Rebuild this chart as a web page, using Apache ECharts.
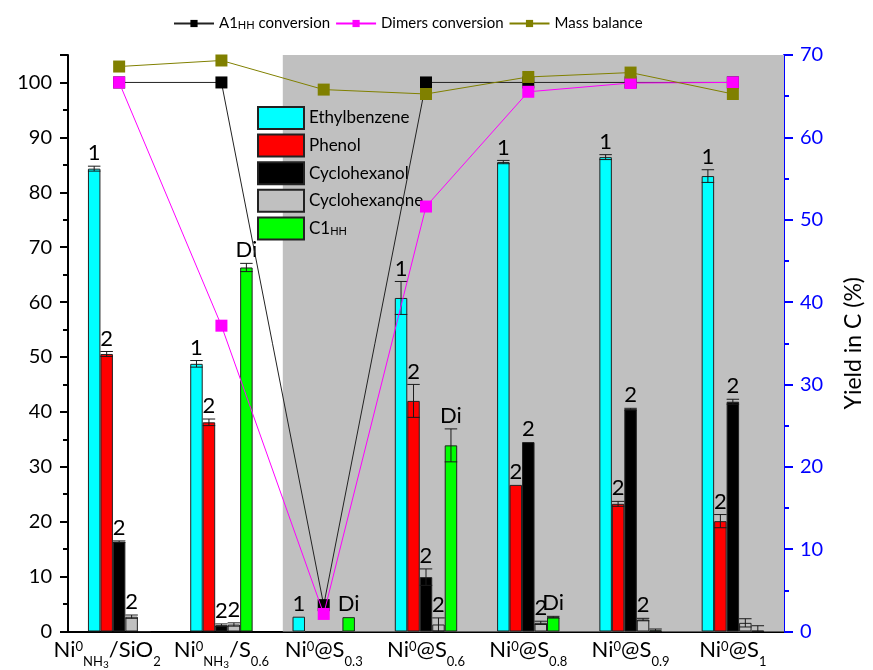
<!DOCTYPE html>
<html>
<head>
<meta charset="utf-8">
<script src="https://cdn.jsdelivr.net/npm/echarts@6/dist/echarts.min.js"></script>
<style>
  html, body { margin: 0; padding: 0; background: #fff; }
  #chart { width: 873px; height: 670px; }
</style>
</head>
<body>
<div id="chart"></div>
<script>
// Catalysts along the x axis
const catalysts = ['Ni0NH3/SiO2', 'Ni0NH3/S0.6', 'Ni0@S0.3', 'Ni0@S0.6', 'Ni0@S0.8', 'Ni0@S0.9', 'Ni0@S1'];
// Tick labels with super/subscripts (rich text)
const tickLabels = [
  '{b|Ni}{sup|0}{sub|NH}{sub2|3}{b|/SiO}{sub|2}',
  '{b|Ni}{sup|0}{sub|NH}{sub2|3}{b|/S}{sub|0.6}',
  '{b|Ni}{sup|0}{b|@S}{sub|0.3}',
  '{b|Ni}{sup|0}{b|@S}{sub|0.6}',
  '{b|Ni}{sup|0}{b|@S}{sub|0.8}',
  '{b|Ni}{sup|0}{b|@S}{sub|0.9}',
  '{b|Ni}{sup|0}{b|@S}{sub|1}'
];

// Product yields, Yield in C (%) - right axis
const ethylbenzene  = [56.2, 32.5, 1.8, 40.5, 57.0, 57.6, 55.3];
const phenol        = [33.7, 25.4, 0, 28.0, 17.8, 15.5, 13.4];
const cyclohexanol  = [10.9, 0.77, 0, 6.6, 23.0, 27.0, 27.9];
const cyclohexanone = [1.8, 0.85, 0, 0.85, 1.05, 1.45, 1.05];
const c1hh          = [0, 44.2, 1.74, 22.6, 1.74, 0.15, 0.1];

// Standard deviations of the yields
const ethylbenzeneErr  = [0.3, 0.4, 0, 2.0, 0.2, 0.3, 0.77];
const phenolErr        = [0.3, 0.4, 0, 2.0, 0, 0.3, 0.8];
const cyclohexanolErr  = [0.1, 0.15, 0, 1.0, 0, 0.1, 0.3];
const cyclohexanoneErr = [0.2, 0.2, 0, 0.8, 0.2, 0.15, 0.5];
const c1hhErr          = [0, 0.5, 0, 2.0, 0.1, 0.15, 0.6];

// Product family tags printed above the bars
const ethylbenzeneTag  = ['1', '1', '1', '1', '1', '1', '1'];
const phenolTag        = ['2', '2', '', '2', '2', '2', '2'];
const cyclohexanolTag  = ['2', '2', '', '2', '2', '2', '2'];
const cyclohexanoneTag = ['2', '2', '', '2', '2', '2', ''];
const c1hhTag          = ['', 'Di', 'Di', 'Di', 'Di', '', ''];

// Conversions and mass balance (%) - left axis
const a1hhConversion   = [100, 100, 4.8, 100, 100, 100, 100];
const dimersConversion = [100, 55.7, 3.2, 77.4, 98.3, 99.9, 100];
const massBalance      = [102.9, 104.0, 98.7, 97.9, 101.0, 101.8, 97.9];

// Axis ranges
const leftMin = 0, leftMax = 105, leftStep = 10;
const rightMin = 0, rightMax = 70, rightStep = 10;
// Extent of the shaded region (in category units)
const shadeStart = 2.1, shadeEnd = 7;

const FONT = 'Lato';
const barSeries = [
  { name: 'Ethylbenzene',  data: ethylbenzene,  err: ethylbenzeneErr,  tag: ethylbenzeneTag,  color: '#00FFFF' },
  { name: 'Phenol',        data: phenol,        err: phenolErr,        tag: phenolTag,        color: '#FF0000' },
  { name: 'Cyclohexanol',  data: cyclohexanol,  err: cyclohexanolErr,  tag: cyclohexanolTag,  color: '#000000' },
  { name: 'Cyclohexanone', data: cyclohexanone, err: cyclohexanoneErr, tag: cyclohexanoneTag, color: '#C0C0C0' },
  { name: 'C1HH',          data: c1hh,          err: c1hhErr,          tag: c1hhTag,          color: '#00FF00' }
];
const catGap = 0.39;

// rows for the error-bar / tag overlay: [category, seriesIndex, value, err]
const errRows = [];
const errTags = [];
barSeries.forEach((s, si) => {
  s.data.forEach((v, ci) => {
    errRows.push([ci, si, v, s.err[ci]]);
    errTags.push(s.tag[ci]);
  });
});

function renderErr(params, api) {
  const ci = api.value(0), si = api.value(1), v = api.value(2), e = api.value(3);
  const band = api.size([1, 0])[0];
  const n = barSeries.length;
  const slot = band * (1 - catGap) / n;
  const cx = api.coord([ci, 0])[0] - slot * n / 2 + slot * (si + 0.5);
  const yTop = api.coord([ci, v + e])[1];
  const yBot = api.coord([ci, Math.max(v - e, 0)])[1];
  const half = slot / 2;
  const children = [];
  const ls = { stroke: '#1a1a1a', lineWidth: 1 };
  if (e > 0) {
    children.push({ type: 'line', shape: { x1: cx, y1: yTop, x2: cx, y2: yBot }, style: ls });
    children.push({ type: 'line', shape: { x1: cx - half, y1: yTop, x2: cx + half, y2: yTop }, style: ls });
    children.push({ type: 'line', shape: { x1: cx - half, y1: yBot, x2: cx + half, y2: yBot }, style: ls });
  }
  const t = errTags[params.dataIndex];
  if (t) {
    children.push({
      type: 'text', x: cx, y: yTop - 2,
      style: { text: t, fontSize: 22, fontFamily: FONT, fill: '#000', align: 'center', verticalAlign: 'bottom' }
    });
  }
  return { type: 'group', children };
}

const richSub = {
  sub: { fontSize: 11, fontFamily: FONT, color: '#000', verticalAlign: 'bottom', lineHeight: 11, padding: [6, 0, 0, 0] }
};
function subName(name) {
  return name.replace('A1HH', 'A1{sub|HH}').replace('C1HH', 'C1{sub|HH}');
}

const chart = echarts.init(document.getElementById('chart'), null, { renderer: 'canvas' });

const series = [];
// shaded background panel
series.push({
  type: 'line', xAxisIndex: 1, yAxisIndex: 0, data: [[shadeStart, 0]],
  symbol: 'none', silent: true, z: 0,
  markArea: {
    silent: true,
    itemStyle: { color: '#C0C0C0' },
    data: [[{ xAxis: shadeStart }, { xAxis: shadeEnd }]]
  }
});
barSeries.forEach(s => {
  series.push({
    name: s.name, type: 'bar', xAxisIndex: 0, yAxisIndex: 1,
    data: s.data, barGap: '0%', barCategoryGap: (catGap * 100) + '%',
    itemStyle: { color: s.color, borderColor: '#222', borderWidth: 1 },
    z: 2
  });
});
series.push({
  type: 'custom', xAxisIndex: 0, yAxisIndex: 1, data: errRows,
  renderItem: renderErr, encode: { x: 0, y: 2 }, z: 3, silent: true, clip: false
});
const lineDefs = [
  { name: 'A1HH conversion', data: a1hhConversion, line: '#222', mark: '#000' },
  { name: 'Dimers conversion', data: dimersConversion, line: '#FF00FF', mark: '#FF00FF' },
  { name: 'Mass balance', data: massBalance, line: '#808000', mark: '#808000' }
];
lineDefs.forEach((l, i) => {
  series.push({
    name: l.name, type: 'line', xAxisIndex: 0, yAxisIndex: 0, data: l.data,
    symbol: 'rect', symbolSize: 12,
    lineStyle: { color: l.line, width: 1 },
    itemStyle: { color: l.mark },
    z: 5 + i
  });
});

chart.setOption({
  animation: false,
  textStyle: { fontFamily: FONT },
  grid: { left: 68, right: 86, top: 55, bottom: 38, containLabel: false },
  legend: [
    {
      data: lineDefs.map(l => l.name),
      left: 173, top: 14, padding: 0, itemWidth: 40, itemHeight: 9, itemGap: 5,
      textStyle: { fontSize: 15, fontFamily: FONT, color: '#000', rich: richSub },
      formatter: subName
    },
    {
      data: barSeries.map(s => s.name),
      orient: 'vertical', left: 257, top: 106, padding: 0, itemWidth: 46, itemHeight: 22, itemGap: 3.6,
      icon: 'rect',
      textStyle: { fontSize: 17, fontFamily: FONT, color: '#000', rich: richSub },
      formatter: subName
    }
  ],
  xAxis: [
    {
      type: 'category', data: catalysts, gridIndex: 0,
      axisLine: { lineStyle: { color: '#000', width: 2 } },
      axisTick: { show: false },
      axisLabel: {
        margin: 6, interval: 0,
        // first label sits a little left of its group
        formatter: (v, i) => tickLabels[i] + (i === 0 ? '{gap|}' : ''),
        rich: {
          b: { fontSize: 22, fontFamily: FONT, color: '#000', lineHeight: 24, verticalAlign: 'middle' },
          sup: { fontSize: 13, fontFamily: FONT, color: '#000', lineHeight: 13, verticalAlign: 'middle', padding: [0, 0, 6, 0] },
          sub: { fontSize: 13, fontFamily: FONT, color: '#000', lineHeight: 13, verticalAlign: 'middle', padding: [25, 0, 0, 0] },
          sub2: { fontSize: 10, fontFamily: FONT, color: '#000', lineHeight: 10, verticalAlign: 'middle', padding: [31, 0, 0, 0] },
          gap: { width: 24 }
        }
      }
    },
    {
      type: 'value', min: 0, max: 7, gridIndex: 0, position: 'top',
      axisLine: { show: true, lineStyle: { color: '#000', width: 2 } },
      axisTick: { show: false }, axisLabel: { show: false }, splitLine: { show: false }
    }
  ],
  yAxis: [
    {
      type: 'value', min: leftMin, max: leftMax, interval: leftStep, position: 'left',
      axisLine: { show: true, lineStyle: { color: '#000', width: 2 } },
      axisTick: { show: true, length: 8, lineStyle: { color: '#000', width: 2 } },
      minorTick: { show: true, splitNumber: 2, length: 5, lineStyle: { color: '#000', width: 2 } },
      axisLabel: { fontSize: 20, fontFamily: FONT, color: '#000', margin: 16, showMaxLabel: false },
      splitLine: { show: false }
    },
    {
      type: 'value', min: rightMin, max: rightMax, interval: rightStep, position: 'right',
      name: 'Yield in C (%)', nameLocation: 'middle', nameGap: 58, nameRotate: 90,
      nameTextStyle: { fontSize: 23, fontFamily: FONT, color: '#000' },
      axisLine: { show: true, lineStyle: { color: '#0000FF', width: 2 } },
      axisTick: { show: true, length: 9, lineStyle: { color: '#0000FF', width: 2 } },
      minorTick: { show: true, splitNumber: 2, length: 5, lineStyle: { color: '#0000FF', width: 2 } },
      axisLabel: { fontSize: 20, fontFamily: FONT, color: '#0000FF', margin: 16 },
      splitLine: { show: false }
    }
  ],
  series
});
</script>
</body>
</html>
